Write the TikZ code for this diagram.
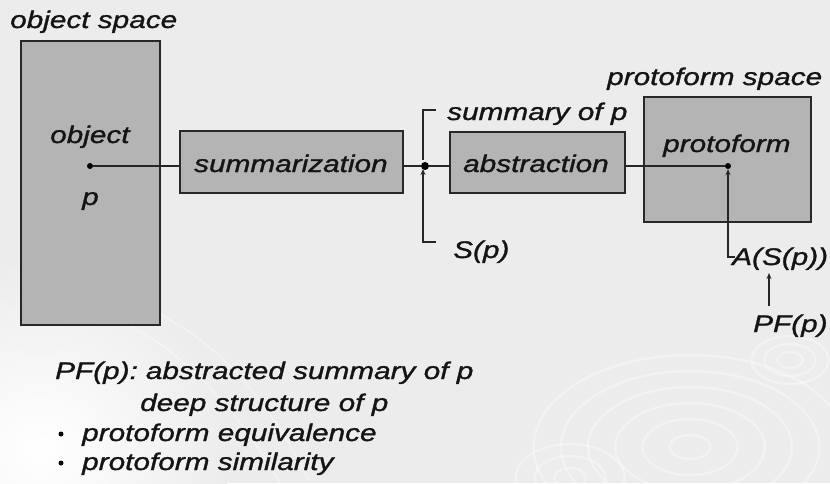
\documentclass[tikz,border=0pt]{standalone}
\usepackage{fontspec}
\setmainfont{Liberation Sans}[FakeStretch=1.24, FakeBold=1.2]
\usetikzlibrary{arrows.meta}
\definecolor{bgcol}{RGB}{236,236,236}
\definecolor{boxcol}{RGB}{180,180,180}
\definecolor{edgecol}{RGB}{40,40,40}
\tikzset{
  blk/.style={draw=edgecol, line width=1.8pt, fill=boxcol, inner sep=0pt},
  lbl/.style={inner sep=0pt, anchor=base west, font=\fontsize{24}{28}\selectfont\itshape, text=black!92},
  wire/.style={draw=black!85, line width=1.4pt},
  tip/.style={-{Stealth[length=6pt,width=5pt]}},
  dotc/.style={circle, fill=black, inner sep=0pt, minimum size=#1},
  ripple/.style={draw=white, line width=2.5pt, opacity=0.35},
}
\begin{document}
\begin{tikzpicture}[x=1pt,y=-1pt]
\useasboundingbox (0,0) rectangle (830,483);
\fill[bgcol] (0,0) rectangle (830,483);
% faint background decoration
\begin{scope}
\clip (0,0) rectangle (830,483);
\shade[inner color=white, outer color=bgcol] (40,450) circle[radius=190];
\foreach \r in {12,28,44,60,76,92} \draw[ripple] (690,447) circle[x radius=1.7*\r, y radius=\r];
\foreach \r in {8,16,24} \draw[ripple] (790,360) circle[x radius=1.6*\r, y radius=\r];
\foreach \r in {10,22,34} \draw[ripple] (570,478) circle[x radius=1.6*\r, y radius=\r];
\draw[ripple, line width=1.5pt] (60,300) .. controls (150,320) and (220,380) .. (280,483);
\draw[ripple, line width=1.5pt] (90,290) .. controls (190,310) and (260,380) .. (310,483);
\end{scope}

% boxes
\node[blk, minimum width=139pt, minimum height=284pt] (objbox) at (90.5,183) {};
\node[blk, minimum width=223pt, minimum height=62pt] (summ) at (291.5,162) {};
\node[blk, minimum width=175pt, minimum height=61pt] (abst) at (537.5,162.5) {};
\node[blk, minimum width=167pt, minimum height=125pt] (pfbox) at (727.5,159.5) {};

% labels
\node[lbl] (tobjspace) at (10,28) {object space};
\node[lbl] (tobj) at (50,143) {object};
\node[lbl] (tp) at (82,205) {p};
\node[lbl] (tsumm) at (194,172) {summarization};
\node[lbl] (tsummof) at (447,120) {summary of p};
\node[lbl] (tabst) at (463,172) {abstraction};
\node[lbl] (tsp) at (453,258) {S(p)};
\node[lbl] (tpfspace) at (607,85) {protoform space};
\node[lbl] (tpf) at (663,152) {protoform};
\node[lbl] (tass) at (732,265) {A(S(p))};
\node[lbl] (tpfp) at (753,332) {PF(p)};

% bottom text
\node[lbl] (b1) at (55,379) {PF(p):\kern-3pt{} abstracted summary of p};
\node[lbl] (b2) at (140,411) {deep structure of p};
\node[lbl] (b3) at (82,441) {protoform equivalence};
\node[lbl] (b4) at (82,470) {protoform similarity};
\node[dotc=5pt] (bul3) at (61,434) {};
\node[dotc=5pt] (bul4) at (61,463) {};

% points
\node[dotc=6pt] (objdot) at (90,166) {};
\node[dotc=8pt] (jdot) at (425,166) {};
\node[dotc=6pt] (pfdot) at (728,166) {};
\coordinate (brtop) at (436,110);
\coordinate (brbot) at (436,242);
\coordinate (asscorner) at (735,257);
\coordinate (pfpstart) at (769,306);
\coordinate (pfpend) at (769,273);

% connectors
\draw[wire] (objdot) -- (objdot -| summ.west);
\draw[wire] (jdot -| summ.east) -- (jdot);
\draw[wire] (jdot) -- (jdot -| abst.west);
\draw[wire] (pfdot -| abst.east) -- (pfdot);
\draw[wire] (brtop) -- (423,110) -- (423,160);
\draw[wire, tip] (brbot) -- (423,242) -- (423,169);
\draw[wire, tip] (asscorner) -- (728,257) -- (pfdot);
\draw[wire, tip] (pfpstart) -- (pfpend);
\end{tikzpicture}
\end{document}
